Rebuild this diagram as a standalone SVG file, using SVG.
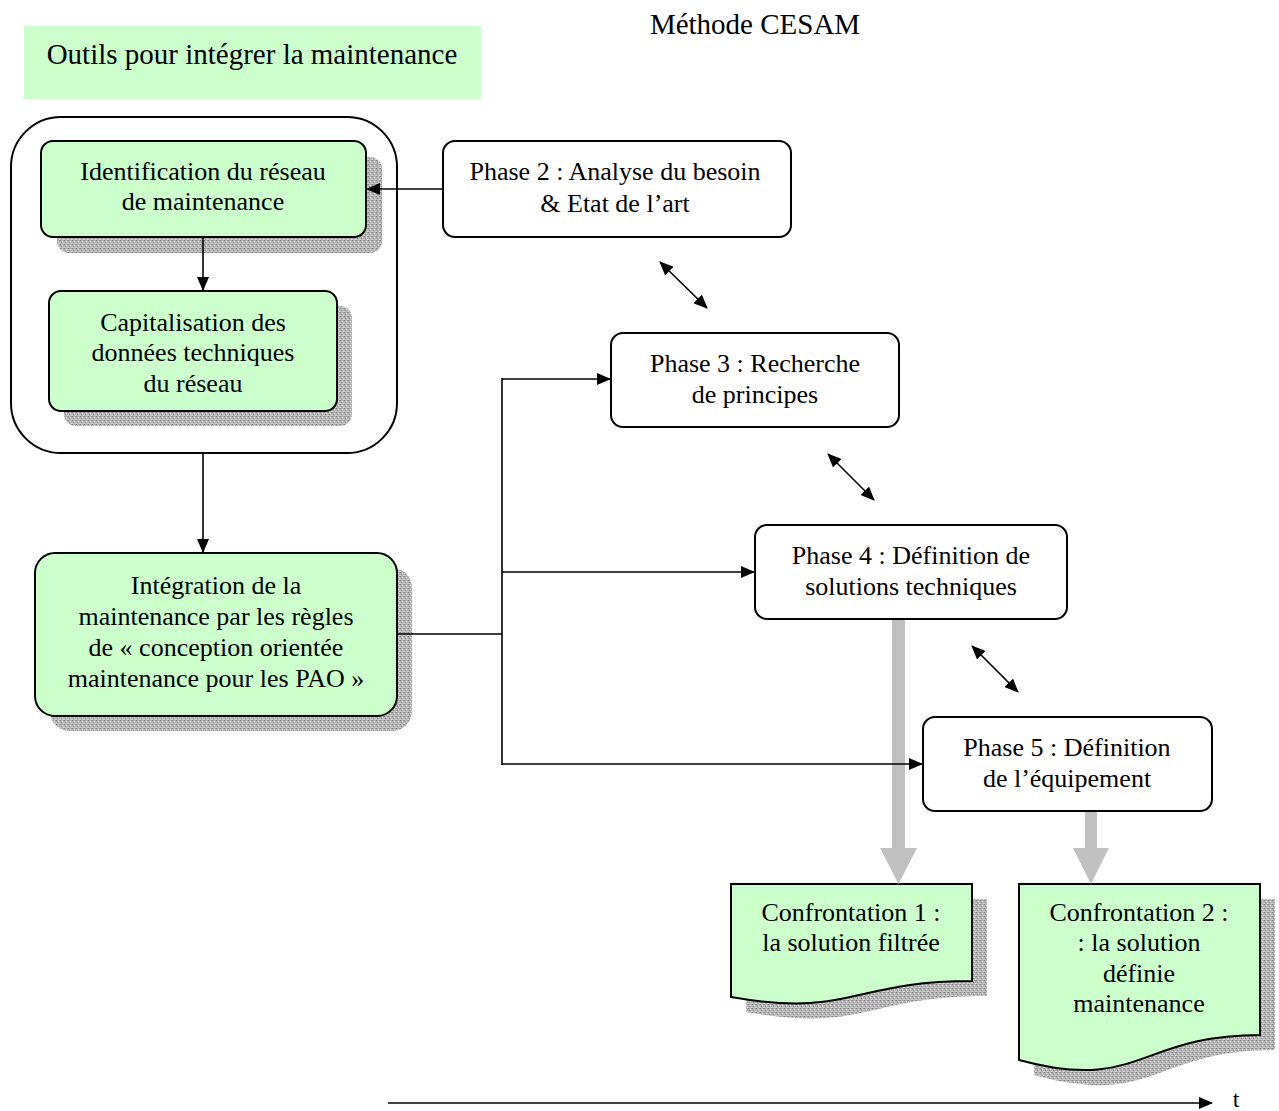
<svg xmlns="http://www.w3.org/2000/svg" width="1279" height="1111" viewBox="0 0 1279 1111" font-family="'Liberation Serif', 'Times New Roman', serif">
<style>
text{font-family:"Liberation Serif","Times New Roman",serif;fill:#000;text-anchor:middle}
.t26{font-size:26px}
.t29{font-size:29px}
.box{fill:#ffffff;stroke:#000;stroke-width:2}
.gbox{fill:#ccffcc;stroke:#000;stroke-width:2}
.shadow{fill:url(#stipple);stroke:none}
.conn{fill:none;stroke:#000;stroke-width:1.6}
.gray{fill:#c0c0c0;stroke:none}
</style>
<defs>
<pattern id="stipple" width="4" height="4" patternUnits="userSpaceOnUse">
<rect width="4" height="4" fill="#b4b4b4"/>
<rect x="0" y="0" width="1" height="1" fill="#7a7a7a"/>
<rect x="2" y="1" width="1" height="1" fill="#e6e6e6"/>
<rect x="1" y="2" width="1" height="1" fill="#8a8a8a"/>
<rect x="3" y="3" width="1" height="1" fill="#dddddd"/>
<rect x="3" y="0" width="1" height="1" fill="#9a9a9a"/>
<rect x="0" y="3" width="1" height="1" fill="#d0d0d0"/>
</pattern>
<marker id="ah" viewBox="0 0 14 12" refX="13" refY="6" markerWidth="14" markerHeight="12" markerUnits="userSpaceOnUse" orient="auto-start-reverse">
<path d="M0,0 L14,6 L0,12 Z" fill="#000"/>
</marker>
</defs>

<text class="t29" x="755" y="34">Méthode CESAM</text>

<g id="title">
<rect x="24" y="26" width="457" height="73" fill="#ccffcc"/>
<text class="t29" x="252" y="64">Outils pour intégrer la maintenance</text>
</g>

<g id="groupe">
<rect x="11" y="117" width="386" height="336" rx="50" ry="50" fill="none" stroke="#000" stroke-width="2"/>
</g>

<g id="identification">
<rect class="shadow" x="57" y="157" width="325" height="96" rx="12"/>
<rect class="gbox" x="41" y="141" width="325" height="96" rx="12"/>
<text class="t26" x="203" y="180">Identification du réseau</text>
<text class="t26" x="203" y="210">de maintenance</text>
</g>

<g id="capitalisation">
<rect class="shadow" x="64" y="306" width="288" height="120" rx="12"/>
<rect class="gbox" x="49" y="291" width="288" height="120" rx="12"/>
<text class="t26" x="193" y="331">Capitalisation des</text>
<text class="t26" x="193" y="361">données techniques</text>
<text class="t26" x="193" y="392">du réseau</text>
</g>

<g id="integration">
<rect class="shadow" x="50" y="568" width="362" height="163" rx="20"/>
<rect class="gbox" x="35" y="553" width="362" height="163" rx="20"/>
<text class="t26" x="216" y="594">Intégration de la</text>
<text class="t26" x="216" y="625">maintenance par les règles</text>
<text class="t26" x="216" y="656">de « conception orientée</text>
<text class="t26" x="216" y="687">maintenance pour les PAO »</text>
</g>

<g id="phase2">
<rect class="box" x="443" y="141" width="348" height="96" rx="12"/>
<text class="t26" x="615" y="180">Phase 2 : Analyse du besoin</text>
<text class="t26" x="615" y="212">&amp; Etat de l’art</text>
</g>

<g id="phase3">
<rect class="box" x="611" y="333" width="288" height="94" rx="12"/>
<text class="t26" x="755" y="372">Phase 3 : Recherche</text>
<text class="t26" x="755" y="403">de principes</text>
</g>

<g id="phase4">
<rect class="box" x="755" y="525" width="312" height="94" rx="12"/>
<text class="t26" x="911" y="564">Phase 4 : Définition de</text>
<text class="t26" x="911" y="595">solutions techniques</text>
</g>

<g id="phase5">
<rect class="box" x="923" y="717" width="289" height="94" rx="12"/>
<text class="t26" x="1067" y="756">Phase 5 : Définition</text>
<text class="t26" x="1067" y="787">de l’équipement</text>
</g>

<g id="confrontation1">
<path class="shadow" d="M746,899 H987 V996 C866,996 866,1033 746,1012 Z"/>
<path class="gbox" d="M731,884 H972 V981 C851,981 851,1018 731,997 Z"/>
<text class="t26" x="851" y="921">Confrontation 1 :</text>
<text class="t26" x="851" y="951">la solution filtrée</text>
</g>

<g id="confrontation2">
<path class="shadow" d="M1034,899 H1275 V1050 C1154,1050 1154,1108 1034,1075 Z"/>
<path class="gbox" d="M1019,884 H1260 V1035 C1139,1035 1139,1093 1019,1060 Z"/>
<text class="t26" x="1139" y="921">Confrontation 2 :</text>
<text class="t26" x="1139" y="951">: la solution</text>
<text class="t26" x="1139" y="982">définie</text>
<text class="t26" x="1139" y="1012">maintenance</text>
</g>

<g id="connectors">
<path class="gray" d="M892,620 H905 V848 H917 L898.5,884 L880,848 H892 Z"/>
<path class="gray" d="M1085,812 H1097 V848 H1109 L1091,884 L1073,848 H1085 Z"/>
<line class="conn" x1="443" y1="189" x2="367" y2="189" marker-end="url(#ah)"/>
<line class="conn" x1="203" y1="237" x2="203" y2="290" marker-end="url(#ah)"/>
<line class="conn" x1="203" y1="453" x2="203" y2="552" marker-end="url(#ah)"/>
<polyline class="conn" points="397,634 502,634"/>
<line class="conn" x1="502" y1="378" x2="502" y2="765"/>
<line class="conn" x1="502" y1="379" x2="610" y2="379" marker-end="url(#ah)"/>
<line class="conn" x1="502" y1="572" x2="754" y2="572" marker-end="url(#ah)"/>
<line class="conn" x1="502" y1="764" x2="922" y2="764" marker-end="url(#ah)"/>
<line class="conn" x1="660" y1="262" x2="707" y2="308" marker-start="url(#ah)" marker-end="url(#ah)"/>
<line class="conn" x1="828" y1="454" x2="874" y2="500" marker-start="url(#ah)" marker-end="url(#ah)"/>
<line class="conn" x1="972" y1="646" x2="1018" y2="692" marker-start="url(#ah)" marker-end="url(#ah)"/>
<line class="conn" x1="388" y1="1103" x2="1212" y2="1103" marker-end="url(#ah)"/>
</g>
<text x="1236" y="1107" style="font-size:24px">t</text>
</svg>
